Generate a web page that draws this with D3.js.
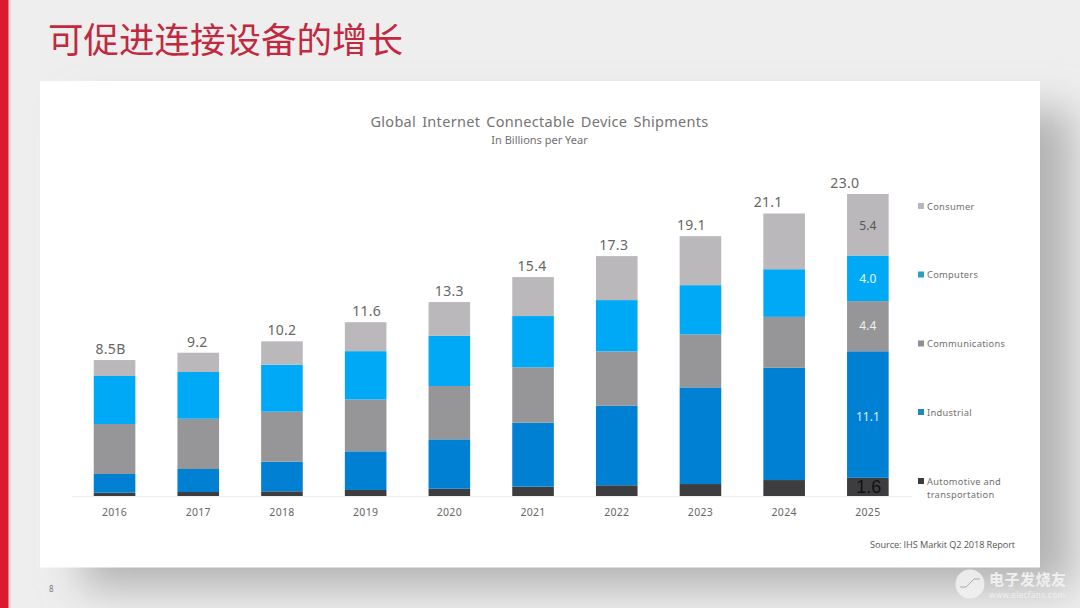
<!DOCTYPE html>
<html><head><meta charset="utf-8">
<script src="https://cdnjs.cloudflare.com/ajax/libs/d3/7.8.5/d3.min.js"></script>
<style>html,body{margin:0;padding:0;background:#eeeeee;overflow:hidden}svg{display:block}</style>
</head><body><svg id="c" width="1080" height="608"></svg>
<script>
const years=["2016","2017","2018","2019","2020","2021","2022","2023","2024","2025"];
const totalLabels=["8.5B","9.2","10.2","11.6","13.3","15.4","17.3","19.1","21.1","23.0"];
const automotive=[0.29,0.35,0.41,0.53,0.64,0.82,0.94,1.05,1.40,1.6];
const industrial=[1.64,2.02,2.60,3.39,4.33,5.61,6.98,8.48,9.85,11.1];
const communications=[4.39,4.41,4.39,4.55,4.68,4.86,4.77,4.65,4.47,4.4];
const computers=[4.21,4.10,4.12,4.24,4.41,4.50,4.50,4.32,4.18,4.0];
const consumer=[1.40,1.69,2.05,2.54,2.96,3.42,3.86,4.30,4.89,5.4];
const seriesNames=["Automotive and transportation","Industrial","Communications","Computers","Consumer"];
const seriesValues=[automotive,industrial,communications,computers,consumer];
const seriesColors=["#3d3d40","#0080d2","#969698","#00a9f6","#bab8ba"];
const legendSwatch=["#3d3d40","#1f86bd","#8f8f91","#2a9ec6","#b8b8ba"];
const segLabelColors=["#111111","#d8f2ff","#f0f0f0","#e6f7ff","#555555"];

const svg=d3.select("#c");
const F='"Noto Sans","Open Sans",sans-serif';
const defs=svg.append("defs");
const f=defs.append("filter").attr("id","sh").attr("x","-10%").attr("y","-10%").attr("width","130%").attr("height","140%");
f.append("feGaussianBlur").attr("stdDeviation",20);
svg.append("rect").attr("width",1080).attr("height",608).attr("fill","#eeeeee");
svg.append("rect").attr("x",82).attr("y",110).attr("width",990).attr("height",478).attr("fill","#b2b2b2").attr("filter","url(#sh)");
svg.append("rect").attr("x",8).attr("width",3).attr("height",608).attr("fill","#f8dce4");
svg.append("rect").attr("width",8.5).attr("height",608).attr("fill","#db1a2f");
svg.append("text").attr("x",48).attr("y",53).attr("font-family",'"Noto Sans CJK SC"').attr("font-size",35.5).attr("fill","#c1293f").text("可促进连接设备的增长");
svg.append("rect").attr("x",40).attr("y",81).attr("width",1000).attr("height",486.5).attr("fill","#ffffff");

const x=d3.scaleBand().domain(years).range([72.7,909.7]).paddingInner(0.503).paddingOuter(0.2515);
const y=d3.scaleLinear().domain([0,26.5]).range([496,194]);

const rows=years.map((yr,i)=>{const o={year:yr};seriesNames.forEach((n,k)=>o[n]=seriesValues[k][i]);return o;});
const stacked=d3.stack().keys(seriesNames)(rows);
const g=svg.append("g");
g.selectAll("g").data(stacked).join("g").attr("fill",(d,i)=>seriesColors[i])
 .selectAll("rect").data(d=>d).join("rect")
 .attr("x",d=>x(d.data.year)).attr("width",x.bandwidth())
 .attr("y",d=>y(d[1])).attr("height",d=>y(d[0])-y(d[1]));

const axis=svg.append("g").attr("transform","translate(0,496.5)").call(d3.axisBottom(x).tickSize(0).tickPadding(12));
axis.select(".domain").attr("stroke","#eeeeee").attr("d","M72,0H912");
axis.selectAll("text").attr("font-family",F).attr("font-size",10.5).attr("fill","#666").attr("letter-spacing",0.3);

// the reference's total labels drift left of their columns towards the later years
const drift=d3.scaleOrdinal().domain(years).range([-4,-1,0,1,0,-1,-3,-9,-16,-23]);
svg.append("g").selectAll("text").data(years).join("text")
 .attr("x",d=>x(d)+x.bandwidth()/2+drift(d))
 .attr("y",(d,i)=>y(d3.sum(seriesValues,s=>s[i]))-6)
 .attr("text-anchor","middle").attr("font-family",F).attr("font-size",14).attr("fill","#666").attr("letter-spacing",0.3)
 .text((d,i)=>totalLabels[i]);

const last=years.length-1;
stacked.forEach((s,k)=>{
 const d=s[last];
 svg.append("text").attr("x",x(years[last])+x.bandwidth()/2+(k===0?1:0)).attr("y",(y(d[0])+y(d[1]))/2+(k===1?2:k===2?-1:k===4?1:0))
  .attr("dy","0.36em").attr("text-anchor","middle").attr("font-family",k===0?'"Liberation Sans"':F)
  .attr("font-size",k===0?18:12).attr("fill",segLabelColors[k])
  .text(d3.format(".1f")(seriesValues[k][last]));
});

svg.append("text").attr("x",539.5).attr("y",126.5).attr("text-anchor","middle").attr("font-family",F).attr("font-size",14.5).attr("fill","#757575").attr("word-spacing",2).attr("letter-spacing",0.3).text("Global Internet Connectable Device Shipments");
svg.append("text").attr("x",539.5).attr("y",144).attr("text-anchor","middle").attr("font-family",F).attr("font-size",11).attr("fill","#707070").text("In Billions per Year");

const legendY=[480.5,411.5,343,274,205.5];
const leg=svg.append("g").selectAll("g").data(seriesNames).join("g").attr("transform",(d,i)=>`translate(918,${legendY[i]})`);
leg.append("rect").attr("y",-2.5).attr("width",6).attr("height",6).attr("fill",(d,i)=>legendSwatch[i]);
leg.append("text").attr("x",9).attr("y",4).attr("font-family",F).attr("font-size",9.3).attr("fill","#707070").attr("letter-spacing",0.3)
 .each(function(d){
  if(d.startsWith("Automotive")){
   d3.select(this).append("tspan").attr("x",9).text("Automotive and");
   d3.select(this).append("tspan").attr("x",9).attr("dy",13.5).text("transportation");
  } else d3.select(this).text(d);
 });

svg.append("text").attr("x",1015).attr("y",548).attr("text-anchor","end").attr("font-family",'"Open Sans"').attr("font-size",9.2).attr("fill","#555").attr("letter-spacing",-0.1).text("Source: IHS Markit Q2 2018 Report");
svg.append("text").attr("x",49).attr("y",592).attr("font-family",F).attr("font-size",8).attr("fill","#777").text("8");

const wm=svg.append("g");
wm.append("circle").attr("cx",970).attr("cy",584).attr("r",14.5).attr("fill","#f2f2f2").attr("opacity",0.85);
wm.append("path").attr("d","M960 587 L966 587 L974 579 L980 579").attr("fill","none").attr("stroke","#aaa").attr("stroke-width",1);
wm.append("text").attr("x",989).attr("y",585).attr("font-family",'"Noto Sans CJK SC"').attr("font-size",15).attr("font-weight",700).attr("fill","#f0f0f0").attr("letter-spacing",0.5).text("电子发烧友");
wm.append("text").attr("x",989).attr("y",598).attr("font-family",F).attr("font-size",8).attr("fill","#f0f0f0").attr("letter-spacing",0.4).text("www.elecfans.com");
</script></body></html>
